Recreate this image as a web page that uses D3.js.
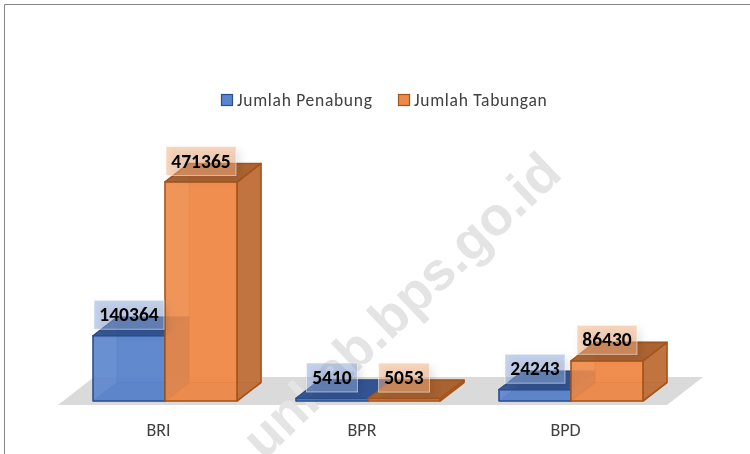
<!DOCTYPE html>
<html><head><meta charset="utf-8">
<script src="https://cdn.jsdelivr.net/npm/d3@7/dist/d3.min.js"></script>
<style>html,body{margin:0;padding:0;background:#fff}svg{display:block}</style>
</head><body><svg id="c" width="750" height="454"></svg>
<script>
const categories = ["BRI","BPR","BPD"];
const seriesNames = ["Jumlah Penabung","Jumlah Tabungan"];
const penabung = [140364,5410,24243];
const tabungan = [471365,5053,86430];
const seriesValues = [penabung,tabungan];
const fills = ["#5a84cc","#ee8a48"];
const edges = ["#2c4f8e","#a5551c"];
const sides = ["#3f6199","#bd703a"];
const tops = ["#2f5190","#a85f2c"];
const font = "Carlito, Calibri, Lato, 'Open Sans', sans-serif";

const svg = d3.select("#c");
const defs = svg.append("defs");
defs.append("filter").attr("id","soft").append("feGaussianBlur").attr("stdDeviation",.35);
defs.append("filter").attr("id","shadow").attr("x","-30%").attr("y","-30%").attr("width","160%").attr("height","160%")
  .append("feGaussianBlur").attr("stdDeviation",4);
const root = svg.append("g").attr("filter","url(#soft)");

const x0 = d3.scaleBand().domain(categories).range([58,667]);
const x1 = d3.scaleBand().domain([0,1]).range([35,179]);
const y = d3.scaleLinear().domain([0,471365]).range([401,182]);
const dx = 24, dy = 18.5, bw = 72;

// frame
root.append("path").attr("d","M4.5,454V4.5H750").attr("fill","none").attr("stroke","#858585").attr("stroke-width",1);

// floor
root.append("polygon").attr("fill","#dadada")
  .attr("points",[[58,405],[667,405],[703,377],[94,377]].join(" "));

// watermark
root.append("text").attr("transform","translate(564,176) rotate(-43.5)").attr("text-anchor","end")
  .attr("font-family","'Liberation Sans',Arial,sans-serif").attr("font-weight",700).attr("font-size",54)
  .attr("fill","#e4e4e4").text("unkab.bps.go.id");

const pts = a => a.map(p=>p.join(",")).join(" ");
const bars = [];
categories.forEach((c,i)=>seriesValues.forEach((s,j)=>bars.push({c,j,v:s[i]})));

bars.forEach(b=>{
  const l = x0(b.c)+x1(b.j), r = l+bw, b0 = y(0), t = y(b.v);
  const g = root.append("g").attr("stroke",edges[b.j]).attr("stroke-width",1.6).attr("stroke-linejoin","round");
  g.append("polygon").attr("points",pts([[l+dx,b0-dy],[r+dx,b0-dy],[r+dx,t-dy],[l+dx,t-dy]])).attr("fill",fills[b.j]).attr("fill-opacity",.6).attr("stroke-opacity",.5).attr("stroke-width",1);
  g.append("polygon").attr("points",pts([[l,b0],[r,b0],[r+dx,b0-dy],[l+dx,b0-dy]])).attr("fill",sides[b.j]).attr("fill-opacity",.6).attr("stroke-opacity",.5).attr("stroke-width",1);
  g.append("polygon").attr("points",pts([[r,b0],[r+dx,b0-dy],[r+dx,t-dy],[r,t]])).attr("fill",sides[b.j]).attr("fill-opacity",.92);
  g.append("polygon").attr("points",pts([[l,t],[r,t],[r+dx,t-dy],[l+dx,t-dy]])).attr("fill",tops[b.j]).attr("fill-opacity",.95);
  g.append("rect").attr("x",l).attr("y",t).attr("width",bw).attr("height",b0-t).attr("fill",fills[b.j]).attr("fill-opacity",.9);
});

// value labels
bars.forEach(b=>{
  const cx = x0(b.c)+x1(b.j)+bw/2, cy = y(b.v)-21;
  const n = String(b.v).length;
  const w = n===6?70:n===5?60:51, h = 29;
  const col = b.j?"#f4b183":"#8faadc";
  root.append("rect").attr("x",cx-w/2+4).attr("y",cy-h/2+4).attr("width",w).attr("height",h)
    .attr("fill","#000").attr("fill-opacity",.1).attr("filter","url(#shadow)");
  root.append("rect").attr("x",cx-w/2).attr("y",cy-h/2).attr("width",w).attr("height",h)
    .attr("fill",col).attr("fill-opacity",.52).attr("stroke","#fff").attr("stroke-opacity",.5);
  root.append("text").attr("x",cx).attr("y",cy+6.5).attr("text-anchor","middle")
    .attr("font-family",font).attr("font-weight",700).attr("font-size",19.5).attr("fill","#000").text(b.v);
});

// category axis labels
const axis = root.append("g").attr("transform","translate(0,430)")
  .call(d3.axisBottom(d3.scalePoint().domain(categories).range([158,565])).tickSize(0));
axis.select(".domain").remove();
axis.selectAll("text").attr("y",0).attr("dy",".35em").attr("font-family",font).attr("font-size",18).attr("fill","#404040");

// legend
const lx = [221,398];
seriesNames.forEach((n,i)=>{
  root.append("rect").attr("x",lx[i]+.5).attr("y",94.5).attr("width",11).attr("height",11).attr("fill",fills[i]).attr("stroke",edges[i]).attr("stroke-width",1.2);
  root.append("text").attr("x",lx[i]+16).attr("y",106).attr("font-family",font).attr("font-size",17.5).attr("letter-spacing",.7).attr("fill","#404040").text(n);
});
</script></body></html>
